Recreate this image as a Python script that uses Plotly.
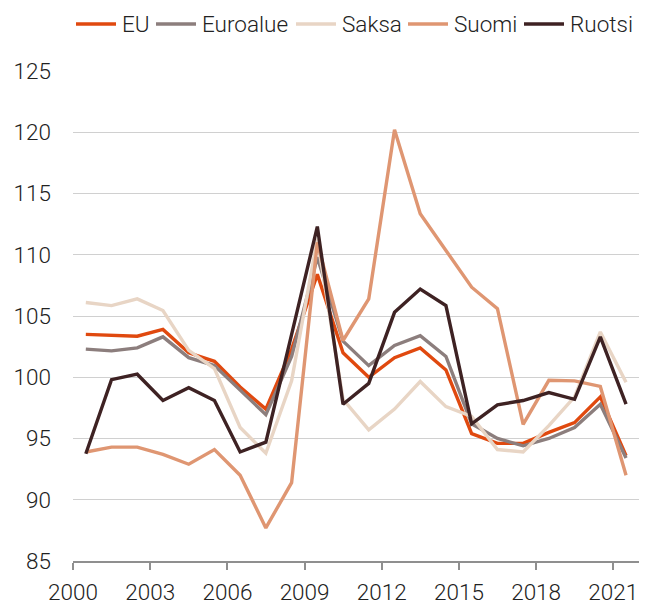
import plotly.graph_objects as go

years = list(range(2000, 2022))

eu = [103.5, 103.4, 103.35, 103.9, 102.0, 101.3, 99.2, 97.4, 102.3, 108.4, 102.0,
      100.0, 101.6, 102.4, 100.6, 95.4, 94.6, 94.6, 95.5, 96.3, 98.4, 93.6]
euroalue = [102.3, 102.15, 102.4, 103.3, 101.6, 100.95, 98.95, 96.95, 101.7, 109.8, 102.95,
            100.95, 102.6, 103.4, 101.7, 96.2, 95.0, 94.4, 95.0, 95.9, 97.8, 93.4]
saksa = [106.1, 105.85, 106.4, 105.45, 102.2, 100.7, 95.9, 93.8, 99.7, 111.3, 98.2,
         95.7, 97.4, 99.65, 97.6, 96.8, 94.1, 93.9, 96.05, 98.4, 103.7, 99.6]
suomi = [93.9, 94.3, 94.3, 93.7, 92.9, 94.1, 92.0, 87.7, 91.4, 111.0, 103.0,
         106.4, 120.2, 113.35, 110.35, 107.35, 105.6, 96.15, 99.75, 99.7, 99.25, 92.0]
ruotsi = [93.75, 99.8, 100.25, 98.1, 99.15, 98.1, 93.9, 94.7, 103.5, 112.3, 97.8,
          99.5, 105.3, 107.2, 105.85, 96.2, 97.75, 98.1, 98.75, 98.2, 103.3, 97.8]

series_names = ["EU", "Euroalue", "Saksa", "Suomi", "Ruotsi"]
series_values = [eu, euroalue, saksa, suomi, ruotsi]
colors = ["#E0490F", "#8C7E7D", "#E8D5C5", "#DF9672", "#3E2223"]

y_ticks = [85, 90, 95, 100, 105, 110, 115, 120, 125]

x_dates = [f"{y}-07-01" for y in years]

# page has an 8px body margin; the figure is sized to fill the rest of the window
OFF = 8
W, H = 663 - OFF, 604 - OFF
ML, MR, MT, MB = 73 - OFF, 24, 71 - OFF, 43
PW, PH = W - ML - MR, H - MT - MB
PLOT_LEFT = OFF + ML
PLOT_BOTTOM = OFF + H - MB

def px_x(px):
    return (px - PLOT_LEFT) / PW

def px_y(py):
    return (PLOT_BOTTOM - py) / PH

font_family = "Roboto"
FS = 22.5
TXT = "#222222"

fig = go.Figure()
for name, vals, col in zip(series_names, series_values, colors):
    fig.add_trace(go.Scatter(
        x=x_dates, y=vals, name=name, mode="lines",
        line=dict(color=col, width=3.4),
        showlegend=False,
    ))

# manual legend (line sample + label), pixel layout of the reference
legend_line_start = [76, 156, 296, 408, 524]
legend_line_len = 40
legend_text_gap = 4
legend_y = 24
for name, col, lx in zip(series_names, colors, legend_line_start):
    fig.add_shape(
        type="line", xref="paper", yref="paper",
        x0=px_x(lx), x1=px_x(lx + legend_line_len),
        y0=px_y(legend_y), y1=px_y(legend_y),
        line=dict(color=col, width=3.6),
    )
    fig.add_annotation(
        xref="paper", yref="paper",
        x=px_x(lx + legend_line_len + legend_text_gap), y=px_y(legend_y),
        xanchor="left", yanchor="middle", showarrow=False,
        text=name, font=dict(size=FS, color=TXT, family=font_family, weight=300),
    )

fig.update_layout(
    width=W, height=H,
    margin=dict(l=ML, r=MR, t=MT, b=MB, pad=0, autoexpand=False),
    paper_bgcolor="white", plot_bgcolor="white",
    font=dict(family=font_family, size=FS, color=TXT, weight=300),
    showlegend=False,
    xaxis=dict(
        type="date",
        range=["2000-01-01", "2022-01-01"],
        tick0="2000-01-01", dtick="M36", tickformat="%Y",
        showgrid=False, showline=True, linecolor="#8F8F8F", linewidth=1.5,
        ticks="outside", ticklen=7, tickwidth=1.5, tickcolor="#8F8F8F",
        ticklabelstandoff=3,
        tickfont=dict(size=FS, color=TXT, family=font_family, weight=300),
        zeroline=False,
    ),
    yaxis=dict(
        range=[85, 125],
        tickvals=y_ticks, ticktext=[str(v) for v in y_ticks],
        showgrid=True, gridcolor="#D0D0D0", gridwidth=1,
        showline=False, zeroline=False, ticks="",
        ticklabelstandoff=21,
        tickfont=dict(size=FS, color=TXT, family=font_family, weight=300),
    ),
)

fig.write_html("out.html")
